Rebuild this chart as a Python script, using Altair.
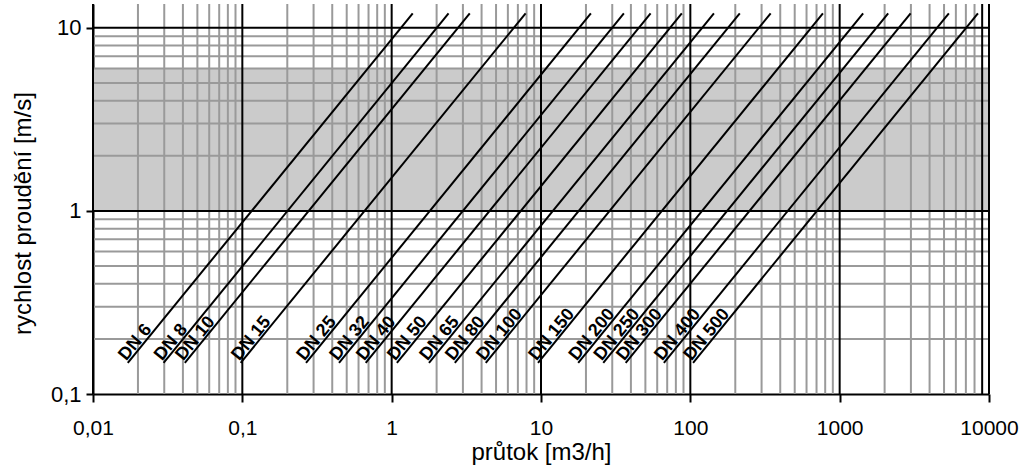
import altair as alt
import pandas as pd

# DN lines: flow at start (v = V_START) and end (v = V_END)
dn_names = ["DN 6", "DN 8", "DN 10", "DN 15", "DN 25", "DN 32", "DN 40", "DN 50", "DN 65",
            "DN 80", "DN 100", "DN 150", "DN 200", "DN 250", "DN 300", "DN 400", "DN 500"]
q_start = [0.0171, 0.0297, 0.0412, 0.0975, 0.267, 0.444, 0.670, 1.084, 1.778,
           2.649, 4.266, 9.55, 17.75, 26.12, 36.9, 66.5, 104.3]
q_end = [1.384, 2.404, 3.334, 7.888, 21.58, 35.89, 54.2, 87.7, 143.9,
         214.3, 345.1, 772.7, 1436, 2113, 2985, 5383, 8433]
V_START = 0.148
V_END = 12.0

# axis / grid values
x_major = [0.01, 0.1, 1, 10, 100, 1000, 10000]
y_major = [0.1, 1, 10]
minor_mult = [2, 3, 4, 5, 6, 7, 8, 9]
x_decades = [0.01, 0.1, 1, 10, 100, 1000]
y_decades = [0.1, 1]
band_low, band_high = 1, 6
X_DOM = [0.01, 10000]
Y_DOM = [0.1, 13.5]

x_minor = [m * d for d in x_decades for m in minor_mult if m * d != 9000]
x_black = x_major + [9000]
y_minor = [m * d for d in y_decades for m in minor_mult]

xs = alt.Scale(type="log", domain=X_DOM, nice=False)
ys = alt.Scale(type="log", domain=Y_DOM, nice=False)

x_axis = alt.Axis(
    values=x_major, title="průtok [m3/h]", labelExpr="replace(format(datum.value, ''), '.', ',')",
    grid=False, domainColor="black", domainWidth=2, tickColor="black", tickWidth=2, tickSize=8,
    labelFont="Liberation Sans", labelFontSize=21, labelColor="black", labelBaseline="alphabetic",
    labelPadding=32, labelFlush=False, labelOverlap=False,
    titleFont="Liberation Sans", titleFontSize=24, titleFontWeight="normal", titleColor="black",
    titleBaseline="alphabetic", titleY=65)
y_axis = alt.Axis(
    values=y_major, title="rychlost proudění [m/s]", labelExpr="replace(format(datum.value, ''), '.', ',')",
    grid=False, domainColor="black", domainWidth=2, tickColor="black", tickWidth=2, tickSize=7,
    labelFont="Liberation Sans", labelFontSize=22, labelColor="black", labelBaseline="middle",
    labelPadding=5, labelFlush=False, labelOverlap=False,
    titleFont="Liberation Sans", titleFontSize=24, titleFontWeight="normal", titleColor="black",
    titleAngle=270, titleAlign="center", titleBaseline="middle", titleX=-70, titleY=209)


def X(field):
    return alt.X(field, type="quantitative", scale=xs, axis=x_axis)


def Y(field):
    return alt.Y(field, type="quantitative", scale=ys, axis=y_axis)


band = alt.Chart(pd.DataFrame({"x": [X_DOM[0]], "x2": [X_DOM[1]], "y": [band_low], "y2": [band_high]})).mark_rect(
    color="#cbcbcb").encode(x=X("x"), x2="x2:Q", y=Y("y"), y2="y2:Q")

vminor = alt.Chart(pd.DataFrame({"x": x_minor})).mark_rule(color="#9a9a9a", strokeWidth=2).encode(x=X("x"))
hminor = alt.Chart(pd.DataFrame({"y": y_minor})).mark_rule(color="#9a9a9a", strokeWidth=2).encode(y=Y("y"))
vmajor = alt.Chart(pd.DataFrame({"x": x_black})).mark_rule(color="black", strokeWidth=2).encode(x=X("x"))
hmajor = alt.Chart(pd.DataFrame({"y": y_major[1:]})).mark_rule(color="black", strokeWidth=2).encode(y=Y("y"))

rows = []
for n, a, b in zip(dn_names, q_start, q_end):
    rows.append({"dn": n, "x": a, "y": V_START, "o": 0})
    rows.append({"dn": n, "x": b, "y": V_END, "o": 1})
lines_df = pd.DataFrame(rows)
lines = alt.Chart(lines_df).mark_line(color="black", strokeWidth=2).encode(
    x=X("x"), y=Y("y"), detail="dn:N", order="o:Q")

lab_df = pd.DataFrame({"dn": dn_names, "x": q_start, "y": [V_START] * len(dn_names)})
labels = alt.Chart(lab_df).mark_text(
    angle=309.3, align="left", baseline="alphabetic", dx=0, dy=-2,
    font="Liberation Sans", fontSize=18, fontWeight="bold", color="black").encode(
    x=X("x"), y=Y("y"), text="dn:N")

chart = alt.layer(band, vminor, hminor, vmajor, hmajor, lines, labels).properties(
    width=896, height=390,
    autosize=alt.AutoSizeParams(type="none"),
    padding={"left": 93, "top": 4, "right": 35, "bottom": 74},
    background="white",
).configure_view(stroke=None)

chart.save("out.html", embed_options={"renderer": "svg", "actions": False})
